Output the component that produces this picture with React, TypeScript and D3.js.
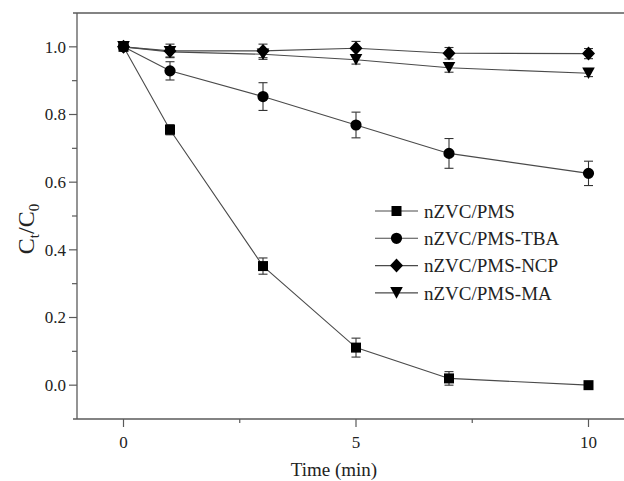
import React from "react";
import * as d3 from "d3";

const times = [0, 1, 3, 5, 7, 10];
const seriesNames = ["nZVC/PMS", "nZVC/PMS-TBA", "nZVC/PMS-NCP", "nZVC/PMS-MA"];
const pmsValues = [1.0, 0.755, 0.352, 0.111, 0.02, 0.0];
const pmsErrors = [0, 0.015, 0.024, 0.028, 0.02, 0.004];
const tbaValues = [1.0, 0.929, 0.853, 0.769, 0.685, 0.626];
const tbaErrors = [0, 0.027, 0.041, 0.038, 0.044, 0.036];
const ncpValues = [1.0, 0.988, 0.988, 0.996, 0.981, 0.98];
const ncpErrors = [0, 0.02, 0.02, 0.02, 0.017, 0.015];
const maValues = [1.0, 0.985, 0.978, 0.962, 0.938, 0.922];
const maErrors = [0, 0.015, 0.015, 0.013, 0.013, 0.01];
const yMajorTicks = [0, 0.2, 0.4, 0.6, 0.8, 1.0];
const yMinorTicks = [0.1, 0.3, 0.5, 0.7, 0.9];
const xMajorTicks = [0, 5, 10];
const xMinorTicks = [2.5, 7.5];

const W = 624;
const H = 481;
const FONT = "'Liberation Serif', 'Times New Roman', serif";

function markerPath(kind: string, cx: number, cy: number): string {
  if (kind === "square") {
    const s = 5;
    return `M${cx - s},${cy - s}H${cx + s}V${cy + s}H${cx - s}Z`;
  }
  if (kind === "circle") {
    const r = 5.6;
    return `M${cx - r},${cy}A${r},${r} 0 1,0 ${cx + r},${cy}A${r},${r} 0 1,0 ${cx - r},${cy}Z`;
  }
  if (kind === "diamond") {
    const w = 6.5, h = 7;
    return `M${cx},${cy - h}L${cx + w},${cy}L${cx},${cy + h}L${cx - w},${cy}Z`;
  }
  // down triangle
  const w = 6.3, h = 5.8;
  return `M${cx - w},${cy - h}L${cx + w},${cy - h}L${cx},${cy + h}Z`;
}

export default function App() {
  const x = d3.scaleLinear().domain([-1, 10.8]).range([77, 77 + 11.8 * 46.5]);
  const y = d3.scaleLinear().domain([-0.1, 1.1]).range([419, 13]);

  const series = [
    { name: seriesNames[0], values: pmsValues, errors: pmsErrors, kind: "square" },
    { name: seriesNames[1], values: tbaValues, errors: tbaErrors, kind: "circle" },
    { name: seriesNames[2], values: ncpValues, errors: ncpErrors, kind: "diamond" },
    { name: seriesNames[3], values: maValues, errors: maErrors, kind: "triangle" },
  ];

  const line = d3
    .line<[number, number]>()
    .x((d) => x(d[0]))
    .y((d) => y(d[1]));

  const axisColor = "#5a5a5a";
  const lineColor = "#4a4a4a";
  const legendX = 375;
  const legendY0 = 211;
  const legendDy = 27.3;

  return (
    <svg
      width={W}
      height={H}
      style={{ position: "absolute", left: 0, top: 0, background: "#ffffff" }}
      fontFamily={FONT}
    >
      <rect x={0} y={0} width={W} height={H} fill="#ffffff" />
      {/* frame */}
      <line x1={73} x2={W} y1={y(1.1)} y2={y(1.1)} stroke={axisColor} strokeWidth={1.3} />
      <line x1={73} x2={W} y1={y(-0.1)} y2={y(-0.1)} stroke={axisColor} strokeWidth={1.3} />
      <line x1={x(-1)} x2={x(-1)} y1={y(1.1)} y2={y(-0.1)} stroke={axisColor} strokeWidth={1.3} />

      {/* y ticks */}
      {yMajorTicks.map((t) => (
        <g key={"ym" + t}>
          <line x1={x(-1) - 8} x2={x(-1)} y1={y(t)} y2={y(t)} stroke={axisColor} strokeWidth={1.2} />
          <text x={x(-1) - 11} y={y(t)} dy="0.35em" textAnchor="end" fontSize={17} fill="#222">
            {t.toFixed(1)}
          </text>
        </g>
      ))}
      {yMinorTicks.map((t) => (
        <line key={"yn" + t} x1={x(-1) - 5} x2={x(-1)} y1={y(t)} y2={y(t)} stroke={axisColor} strokeWidth={1.2} />
      ))}

      {/* x ticks */}
      {xMajorTicks.map((t) => (
        <g key={"xm" + t}>
          <line x1={x(t)} x2={x(t)} y1={y(-0.1)} y2={y(-0.1)} stroke={axisColor} strokeWidth={1.2} />
          <line x1={x(t)} x2={x(t)} y1={y(-0.1)} y2={y(-0.1) + 8} stroke={axisColor} strokeWidth={1.2} />
          <text x={x(t)} y={y(-0.1) + 29} textAnchor="middle" fontSize={17} fill="#222">
            {t}
          </text>
        </g>
      ))}
      {xMinorTicks.map((t) => (
        <line key={"xn" + t} x1={x(t)} x2={x(t)} y1={y(-0.1)} y2={y(-0.1) + 4} stroke={axisColor} strokeWidth={1.2} />
      ))}

      {/* axis titles */}
      <text x={334} y={476} textAnchor="middle" fontSize={19} fill="#222">
        Time (min)
      </text>
      <text
        transform={`translate(34, 229) rotate(-90)`}
        textAnchor="middle"
        fontSize={24}
        fill="#222"
      >
        C<tspan fontSize={15} dy={5}>t</tspan>
        <tspan dy={-5}>/C</tspan>
        <tspan fontSize={15} dy={5}>0</tspan>
      </text>

      {/* series lines */}
      {series.map((s) => (
        <path
          key={"l" + s.name}
          d={line(times.map((t, i) => [t, s.values[i]] as [number, number])) || ""}
          fill="none"
          stroke={lineColor}
          strokeWidth={1.1}
        />
      ))}

      {/* error bars */}
      {series.map((s) =>
        times.map((t, i) =>
          s.errors[i] > 0 ? (
            <g key={"e" + s.name + t} stroke="#333" strokeWidth={1.1}>
              <line x1={x(t)} x2={x(t)} y1={y(s.values[i] + s.errors[i])} y2={y(s.values[i] - s.errors[i])} />
              <line x1={x(t) - 4.5} x2={x(t) + 4.5} y1={y(s.values[i] + s.errors[i])} y2={y(s.values[i] + s.errors[i])} />
              <line x1={x(t) - 4.5} x2={x(t) + 4.5} y1={y(s.values[i] - s.errors[i])} y2={y(s.values[i] - s.errors[i])} />
            </g>
          ) : null
        )
      )}

      {/* markers */}
      {series.map((s) =>
        times.map((t, i) => (
          <path key={"m" + s.name + t} d={markerPath(s.kind, x(t), y(s.values[i]))} fill="#000" />
        ))
      )}

      {/* legend */}
      {series.map((s, i) => {
        const ly = legendY0 + i * legendDy;
        return (
          <g key={"lg" + s.name}>
            <line x1={legendX} x2={legendX + 43} y1={ly} y2={ly} stroke={lineColor} strokeWidth={1.1} />
            <path d={markerPath(s.kind, legendX + 21.5, ly)} fill="#000" />
            <text x={legendX + 49} y={ly} dy="0.35em" fontSize={19} fill="#222">
              {s.name}
            </text>
          </g>
        );
      })}
    </svg>
  );
}
